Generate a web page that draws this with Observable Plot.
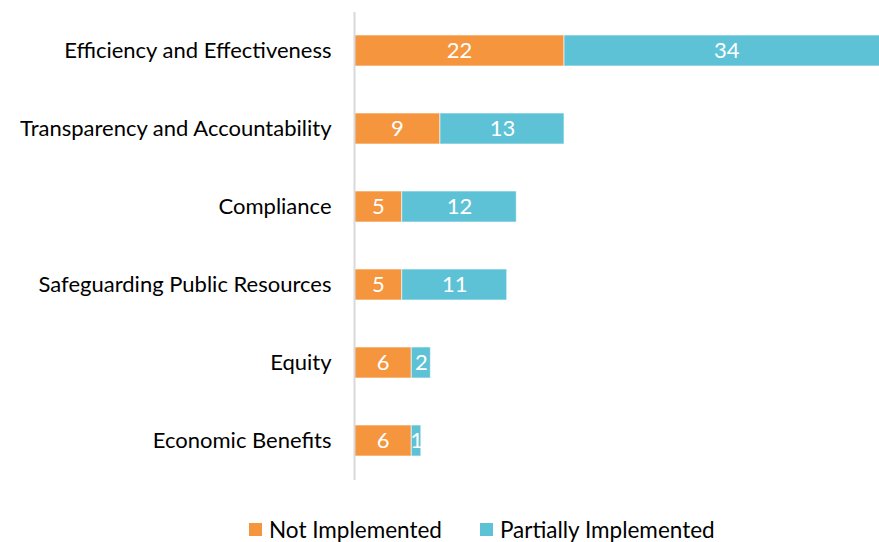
<!DOCTYPE html>
<html>
<head>
<meta charset="utf-8">
<script src="https://cdn.jsdelivr.net/npm/d3@7"></script>
<script src="https://cdn.jsdelivr.net/npm/@observablehq/plot@0.6"></script>
<style>
  html, body { margin: 0; padding: 0; background: white; overflow: hidden; }
  body { width: 879px; height: 542px; font-family: Lato, "Open Sans", sans-serif; }
  #legend { display: flex; justify-content: flex-start; align-items: center; height: 37px; margin-top: 6px; font-size: 22.5px; color: #000; padding-left: 249px; }
  .item { display: flex; align-items: center; margin-right: 38px; }
  .sw { width: 13px; height: 13px; margin-right: 7px; }
</style>
</head>
<body>
<div id="chart"></div>
<div id="legend"></div>
<script>
const categories = [
  "Efficiency and Effectiveness",
  "Transparency and Accountability",
  "Compliance",
  "Safeguarding Public Resources",
  "Equity",
  "Economic Benefits"
];
const notImplemented = [22, 9, 5, 5, 6, 6];
const partiallyImplemented = [34, 13, 12, 11, 2, 1];
const seriesNames = ["Not Implemented", "Partially Implemented"];
const seriesColors = ["#F5963F", "#5EC2D7"];

const rows = [];
categories.forEach((c, i) => {
  rows.push({category: c, series: seriesNames[0], value: notImplemented[i]});
  rows.push({category: c, series: seriesNames[1], value: partiallyImplemented[i]});
});

const chart = Plot.plot({
  width: 879,
  height: 505,
  marginLeft: 354,
  marginRight: 0,
  marginTop: 12,
  marginBottom: 25,
  style: {fontFamily: "Lato, 'Open Sans', sans-serif", fontSize: "22px", color: "#000", overflow: "visible"},
  x: {domain: [0, 55], axis: null},
  y: {domain: categories, paddingInner: 0.6, paddingOuter: 0.3, label: null, tickSize: 0, tickPadding: 23},
  color: {domain: seriesNames, range: seriesColors},
  marks: [
    Plot.barX(rows, Plot.stackX({x: "value", y: "category", fill: "series", order: seriesNames, stroke: "white", strokeOpacity: 0.6, strokeWidth: 1})),
    Plot.text(rows, Plot.stackX({x: "value", y: "category", z: "series", order: seriesNames, text: d => String(d.value), fill: "white", fontSize: 22})),
    Plot.ruleX([0], {stroke: "#D9D9D9", strokeWidth: 2})
  ]
});
document.getElementById("chart").appendChild(chart);

const legend = document.getElementById("legend");
seriesNames.forEach((s, i) => {
  const it = document.createElement("div");
  it.className = "item";
  const sw = document.createElement("div");
  sw.className = "sw";
  sw.style.background = seriesColors[i];
  const t = document.createElement("span");
  t.textContent = s;
  it.appendChild(sw);
  it.appendChild(t);
  legend.appendChild(it);
});
</script>
</body>
</html>
